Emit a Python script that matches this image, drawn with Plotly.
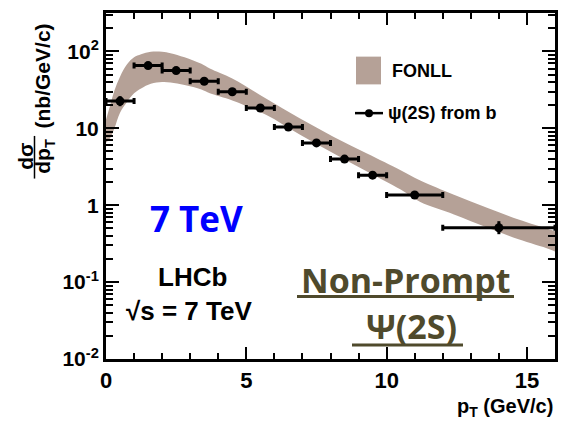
import plotly.graph_objects as go

# psi(2S) from b: measured points (bin centres, half widths, cross-section, errors)
pt_center = [0.5, 1.5, 2.5, 3.5, 4.5, 5.5, 6.5, 7.5, 8.5, 9.5, 11.0, 14.0]
pt_halfwidth = [0.5, 0.5, 0.5, 0.5, 0.5, 0.5, 0.5, 0.5, 0.5, 0.5, 1.0, 2.0]
xsec = [22.6, 65.4, 56.4, 41.0, 29.9, 18.4, 10.4, 6.46, 3.98, 2.46, 1.36, 0.51]
xsec_err_up = [3.6, 5.0, 4.0, 3.0, 2.2, 1.4, 0.8, 0.5, 0.35, 0.22, 0.17, 0.11]
xsec_err_dn = [3.2, 4.5, 3.6, 2.7, 2.0, 1.3, 0.75, 0.45, 0.32, 0.20, 0.15, 0.09]

# FONLL prediction: upper and lower edges of the uncertainty band
fonll_pt = [0.0, 0.15, 0.3, 0.5, 0.75, 1.0, 1.25, 1.6, 2.0, 2.3, 2.8, 3.4, 3.7,
            4.5, 5.7, 6.9, 8.1, 9.3, 10.5, 11.2, 12.4, 13.6, 14.7, 15.8, 16.0]
fonll_hi = [13.0, 20.0, 31.0, 47.0, 68.0, 84.0, 92.0, 99.0, 99.0, 95.0, 84.0, 69.0, 60.0,
            44.5, 24.5, 13.5, 7.8, 4.7, 2.85, 2.1, 1.37, 0.92, 0.65, 0.485, 0.46]
fonll_lo = [6.5, 7.5, 10.0, 16.0, 22.0, 28.5, 33.0, 38.0, 40.0, 39.5, 36.5, 32.0, 28.5,
            23.0, 15.0, 8.3, 4.75, 2.75, 1.6, 1.1, 0.76, 0.51, 0.36, 0.268, 0.25]

y_tickvals = [0.01, 0.1, 1, 10, 100]
y_ticktext = ["10<sup>-2</sup>", "10<sup>-1</sup>", "1", "10", "10<sup>2</sup>"]
x_tickvals = [0, 5, 10, 15]
x_ticktext = ["0", "5", "10", "15"]

BAND = "#B5A197"
OLIVE = "#4F4A2C"
HELV = "Liberation Sans"

W, H = 568, 432
L, R, T, B = 106, 13, 10, 73


def px(x):
    return (x - L) / (W - L - R)


def py(y):
    return (H - B - y) / (H - T - B)


fig = go.Figure()

fig.add_trace(go.Scatter(
    x=fonll_pt, y=fonll_lo, mode="lines", line=dict(width=0, shape="spline", color=BAND),
    showlegend=False, hoverinfo="skip"))
fig.add_trace(go.Scatter(
    x=fonll_pt, y=fonll_hi, mode="lines", line=dict(width=0, shape="spline", color=BAND),
    fill="tonexty", fillcolor=BAND, showlegend=False, hoverinfo="skip"))

fig.add_trace(go.Scatter(
    x=pt_center, y=xsec, mode="markers",
    marker=dict(color="black", size=9, symbol="circle"),
    error_x=dict(type="data", array=pt_halfwidth, symmetric=True,
                 color="black", thickness=3, width=3),
    error_y=dict(type="data", array=xsec_err_up, arrayminus=xsec_err_dn,
                 symmetric=False, color="black", thickness=3, width=0),
    showlegend=False))

minor_y = [k * 10 ** n for n in range(-2, 3) for k in range(2, 10) if k * 10 ** n < 320]
minor_x = [v for v in range(1, 17) if v % 5 != 0]

fig.update_xaxes(
    range=[0, 16], tickmode="array", tickvals=x_tickvals, ticktext=x_ticktext,
    ticks="inside", ticklen=12, tickwidth=2, tickcolor="black",
    minor=dict(tickmode="array", tickvals=minor_x, ticks="inside", ticklen=6,
               tickwidth=2, tickcolor="black", showgrid=False),
    showline=True, linewidth=3, linecolor="black", mirror="ticks",
    showgrid=False, zeroline=False,
    tickfont=dict(family=HELV, size=22, color="black", weight="bold"))

fig.update_yaxes(
    type="log", range=[-2, 2.5], tickmode="array", tickvals=y_tickvals, ticktext=y_ticktext,
    ticks="inside", ticklen=13, tickwidth=2, tickcolor="black",
    minor=dict(tickmode="array", tickvals=minor_y, ticks="inside", ticklen=7,
               tickwidth=2, tickcolor="black", showgrid=False),
    showline=True, linewidth=3, linecolor="black", mirror="ticks",
    showgrid=False, zeroline=False,
    tickfont=dict(family=HELV, size=21, color="black", weight="bold"))

annotations = [
    # axis titles
    dict(x=px(555), y=py(408), text="p<sub>T</sub> (GeV/c)", xanchor="right", yanchor="middle",
         font=dict(family=HELV, size=20, color="black", weight="bold")),
    dict(x=px(42), y=py(74), text="(nb/GeV/c)", textangle=-90, xanchor="center", yanchor="middle",
         font=dict(family=HELV, size=21, color="black", weight="bold")),
    dict(x=px(26), y=py(155), text="dσ", textangle=-90, xanchor="center", yanchor="middle",
         font=dict(family=HELV, size=21, color="black", weight="bold")),
    dict(x=px(44), y=py(155), text="dp<sub>T</sub>", textangle=-90, xanchor="center", yanchor="middle",
         font=dict(family=HELV, size=21, color="black", weight="bold")),
    # legend
    dict(x=px(390), y=py(69), text="FONLL", xanchor="left", yanchor="middle",
         font=dict(family=HELV, size=18, color="black", weight="bold")),
    dict(x=px(386), y=py(111), text="ψ(2S) from b", xanchor="left", yanchor="middle",
         font=dict(family=HELV, size=18, color="black", weight="bold")),
    # labels
    dict(x=px(196), y=py(217), text="7 TeV", xanchor="center", yanchor="middle",
         font=dict(family="Open Sans", size=35, color="#0000FF", weight="bold")),
    dict(x=px(192), y=py(276), text="LHCb", xanchor="center", yanchor="middle",
         font=dict(family=HELV, size=26, color="black", weight="bold")),
    dict(x=px(189), y=py(311), text="√s = 7 TeV", xanchor="center", yanchor="middle",
         font=dict(family=HELV, size=26, color="black", weight="bold")),
    dict(x=px(405), y=py(279), text="Non-Prompt", xanchor="center", yanchor="middle",
         font=dict(family="Open Sans", size=34, color=OLIVE, weight="bold")),
    dict(x=px(411), y=py(326), text="Ψ(2S)", xanchor="center", yanchor="middle",
         font=dict(family="Open Sans", size=34, color=OLIVE, weight="bold")),
]
for a in annotations:
    a.update(xref="paper", yref="paper", showarrow=False)

shapes = [
    # fraction bar of the y title
    dict(type="line", x0=px(34.5), x1=px(34.5), y0=py(134), y1=py(177),
         line=dict(color="black", width=1.5)),
    # legend entries
    dict(type="rect", x0=px(356), x1=px(381), y0=py(82), y1=py(54),
         fillcolor=BAND, line=dict(width=0)),
    dict(type="line", x0=px(355), x1=px(383), y0=py(111), y1=py(111),
         line=dict(color="black", width=2.5)),
    dict(type="circle", xsizemode="pixel", ysizemode="pixel",
         xanchor=px(369), yanchor=py(111), x0=-4, x1=4, y0=-4, y1=4,
         fillcolor="black", line=dict(width=0)),
    # underlines
    dict(type="line", x0=px(297), x1=px(514), y0=py(296), y1=py(296),
         line=dict(color=OLIVE, width=3)),
    dict(type="line", x0=px(352), x1=px(463), y0=py(345), y1=py(345),
         line=dict(color=OLIVE, width=3)),
]
for s in shapes:
    s.update(xref="paper", yref="paper")

fig.update_layout(
    width=W, height=H,
    margin=dict(l=L, r=R, t=T, b=B),
    paper_bgcolor="white", plot_bgcolor="white",
    annotations=annotations, shapes=shapes,
    showlegend=False,
)

fig.write_html("out.html")
